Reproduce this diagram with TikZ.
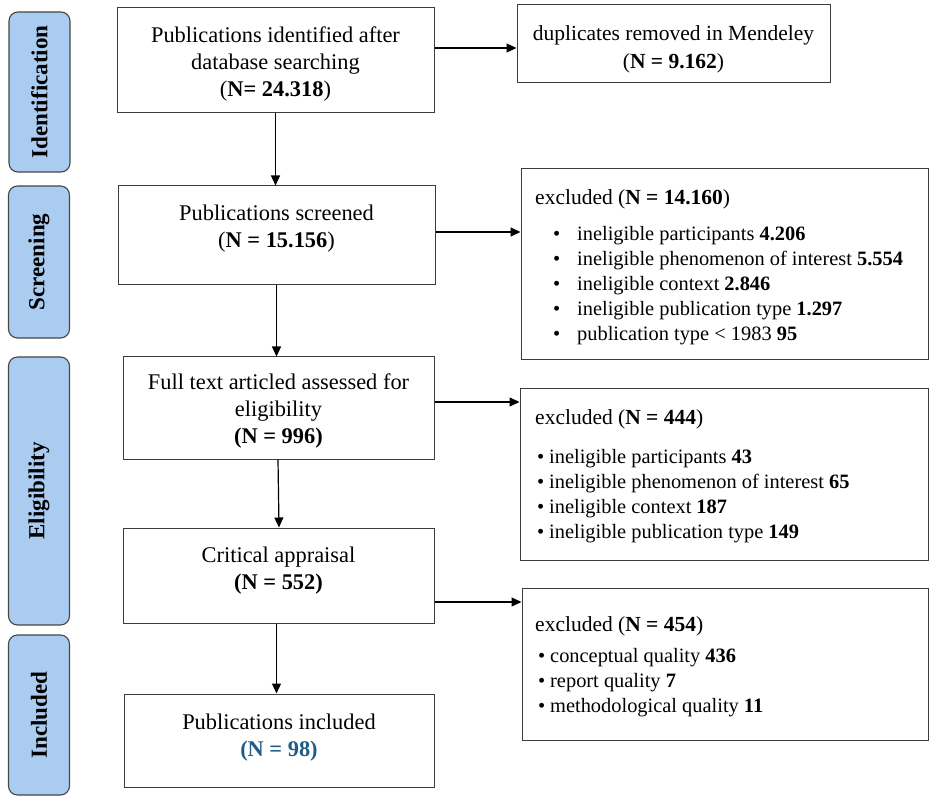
\documentclass[tikz,border=0pt]{standalone}
\usepackage{fontspec}
\setmainfont{Liberation Serif}
\usetikzlibrary{arrows.meta,calc}
\definecolor{lblfill}{RGB}{170,204,240}
\definecolor{lbldraw}{RGB}{70,70,70}
\definecolor{boxdraw}{RGB}{60,60,60}
\definecolor{tealN}{RGB}{31,92,135}
\newcommand{\bulA}{\makebox[24pt][l]{\textbullet}}
\newcommand{\bulB}{\makebox[12pt][l]{\textbullet}}
\begin{document}
\begin{tikzpicture}[x=1pt,y=-1pt,
  phase/.style={draw=lbldraw,fill=lblfill,rounded corners=9pt,line width=1.1pt,minimum width=61pt,inner sep=0pt},
  phasetxt/.style={rotate=90,font=\fontsize{23}{26}\selectfont\bfseries,inner sep=0pt},
  mbox/.style={draw=boxdraw,line width=1pt,inner sep=0pt},
  mtxt/.style={align=center,font=\fontsize{22.4}{27}\selectfont,inner sep=0pt},
  rtitle/.style={anchor=west,font=\fontsize{21.5}{25}\selectfont,inner sep=0pt},
  ritems/.style={anchor=north west,align=left,font=\fontsize{20.4}{25}\selectfont,inner sep=0pt},
  arr/.style={line width=1.2pt,-{Triangle[length=10pt,width=9pt]}}
]
\useasboundingbox (0,0) rectangle (935,802);

% phase labels
\node[phase,minimum height=160pt] (pI) at (39.5,92) {};
\node[phasetxt] (pIt) at (pI) {Identification};
\node[phase,minimum height=152pt] (pS) at (39,262) {};
\node[phasetxt] (pSt) at (pS) {Screening};
\node[phase,minimum height=268pt] (pE) at (39,491) {};
\node[phasetxt] (pEt) at (pE) {Eligibility};
\node[phase,minimum height=160pt] (pN) at (39,715) {};
\node[phasetxt] (pNt) at (pN) {Included};

% main boxes
\node[mbox,minimum width=317pt,minimum height=105pt] (b1) at (275.5,60.5) {};
\node[mtxt] (t1) at (275.5,64) {Publications identified after\\database searching\\(\textbf{N= 24.318})};
\node[mbox,minimum width=317pt,minimum height=99pt] (b2) at (276.5,235.5) {};
\node[mtxt] (t2) at (276.5,229) {Publications screened\\(\textbf{N = 15.156})};
\node[mbox,minimum width=311pt,minimum height=102pt] (b3) at (278.5,408) {};
\node[mtxt] (t3) at (278.5,411) {Full text articled assessed for\\eligibility\\\textbf{(N = 996)}};
\node[mbox,minimum width=311pt,minimum height=95pt] (b4) at (278.5,575.5) {};
\node[mtxt] (t4) at (278.5,571) {Critical appraisal\\\textbf{(N = 552)}};
\node[mbox,minimum width=310pt,minimum height=93pt] (b5) at (279,740.5) {};
\node[mtxt] (t5) at (279,738) {Publications included\\\textcolor{tealN}{\textbf{(N = 98)}}};

% right boxes
\node[mbox,minimum width=313pt,minimum height=78pt] (d1) at (673.5,44) {};
\node[mtxt,font=\fontsize{21.5}{28}\selectfont] (dt) at (673.5,49.5) {duplicates removed in Mendeley\\(\textbf{N = 9.162})};

\node[mbox,minimum width=407pt,minimum height=191pt] (e1) at (724.5,264.5) {};
\node[rtitle] (e1t) at (535,199.5) {excluded (\textbf{N = 14.160})};
\node[ritems] (e1i) at (553,226) {\bulA ineligible participants \textbf{4.206}\\
\bulA ineligible phenomenon of interest \textbf{5.554}\\
\bulA ineligible context \textbf{2.846}\\
\bulA ineligible publication type \textbf{1.297}\\
\bulA publication type < 1983 \textbf{95}};

\node[mbox,minimum width=408pt,minimum height=171pt] (e2) at (724,474.5) {};
\node[rtitle] (e2t) at (535,419.5) {excluded (\textbf{N = 444})};
\node[ritems] (e2i) at (537,449) {\bulB ineligible participants \textbf{43}\\
\bulB ineligible phenomenon of interest \textbf{65}\\
\bulB ineligible context \textbf{187}\\
\bulB ineligible publication type \textbf{149}};

\node[mbox,minimum width=406pt,minimum height=152pt] (e3) at (725,664) {};
\node[rtitle] (e3t) at (535,626.5) {excluded (\textbf{N = 454})};
\node[ritems] (e3i) at (538,648) {\bulB conceptual quality \textbf{436}\\
\bulB report quality \textbf{7}\\
\bulB methodological quality \textbf{11}};

% vertical arrows
\draw[arr] (b1.south) -- (b1.south |- b2.north);
\draw[arr] (b2.south) -- (b2.south |- b3.north);
\draw[arr] ([xshift=-0.5pt]b3.south) -- ([xshift=0.5pt]b3.south |- b4.north);
\draw[arr] ([xshift=-2pt]b4.south) -- ([xshift=-2pt]b4.south |- b5.north);

% horizontal arrows
\draw[arr] ([yshift=12.5pt]b1.east) -- ([yshift=12.5pt]b1.east -| d1.west);
\draw[arr] ([yshift=3.5pt]b2.east) -- ([yshift=3.5pt]b2.east -| e1.west);
\draw[arr] ([yshift=6pt]b3.east) -- ([yshift=6pt]b3.east -| e2.west);
\draw[arr] ([yshift=-26.5pt]b4.east) -- ([yshift=-26.5pt]b4.east -| e3.west);
\end{tikzpicture}
\end{document}
